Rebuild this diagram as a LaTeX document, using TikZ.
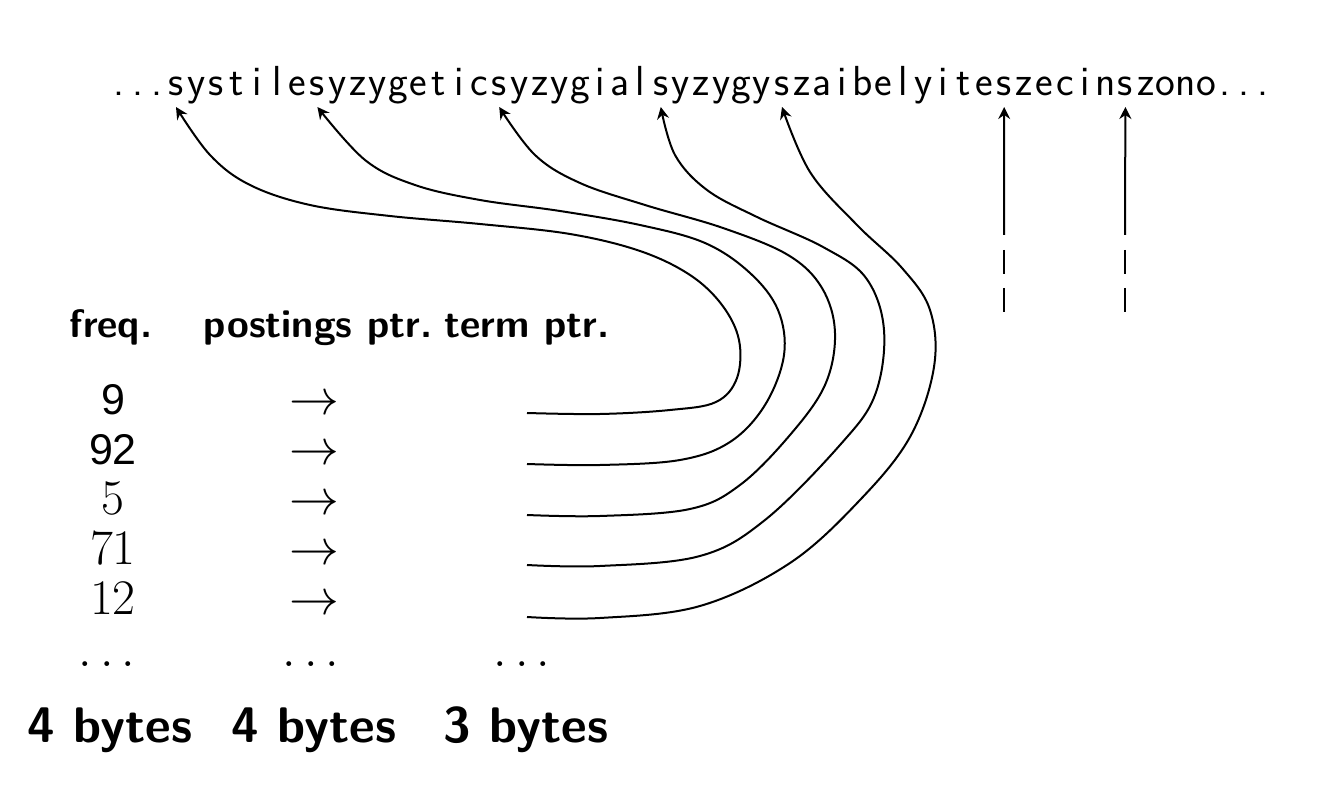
\documentclass[tikz,border=0pt]{standalone}
\usepackage{fontspec}
\newfontfamily\helv{Liberation Sans}
\usetikzlibrary{arrows.meta,calc}
\begin{document}
\begin{tikzpicture}[x=0.5pt,y=-0.5pt,line width=1pt,
  lt/.style={anchor=base,inner sep=0pt,font=\sffamily\fontsize{21}{24}\selectfont},
  hd/.style={anchor=base,inner sep=0pt,font=\sffamily\bfseries\fontsize{19.8}{22}\selectfont},
  num/.style={anchor=base,inner sep=0pt,font=\fontsize{23.5}{26}\selectfont},
  hnum/.style={anchor=base,inner sep=0pt,font=\helv\fontsize{21.5}{24}\selectfont},
  by/.style={anchor=base,inner sep=0pt,font=\sffamily\bfseries\fontsize{25}{28}\selectfont},
  ptr/.style={-{Stealth[length=6pt,width=6pt,inset=2pt]},line width=1pt}]
\useasboundingbox (0,0) rectangle (1330,812);
% top string, one letter per cell
\foreach \c [count=\i from 0] in {s,y,s,t,i,l,e,s,y,z,y,g,e,t,i,c,s,y,z,y,g,i,a,l,s,y,z,y,g,y,s,z,a,i,b,e,l,y,i,t,e,s,z,e,c,i,n,s,z,o,n,o}
  \node[lt] (l\i) at ({176+20.2*\i},96) {\c};
\foreach \k [count=\j] in {-3,-2,-1}
  \node[lt] (ld\j) at ({176+19*\k},96) {.};
\foreach \k [count=\j] in {52,53,54}
  \node[lt] (rd\j) at ({176+20.2*51+19*(\k-51)},96) {.};
\foreach \i in {0,7,16,24,30,41,47}
  \coordinate (a\i) at ($(l\i.base)+(0,11)$);
% headers
\node[hd] (h1) at (111,338) {freq.};
\node[hd] (h2) at (318,338) {postings ptr.};
\node[hd] (h3) at (527,338) {term ptr.};
% rows
\node[hnum] (f1) at (113,415) {9};
\node[hnum] (f2) at (113,465) {92};
\node[num] (f3) at (113,515) {$5$};
\node[num] (f4) at (113,565) {$71$};
\node[num] (f5) at (113,615) {$12$};
\foreach \r in {1,...,5}
  \node[num] (p\r) at (314,{415+50*(\r-1)}) {$\rightarrow$};
\coordinate (t1) at (527,413);
\coordinate (t2) at (527,464);
\coordinate (t3) at (527,515);
\coordinate (t4) at (527,565);
\coordinate (t5) at (527,617);
\node[num] (d1) at (107,667) {$\ldots$};
\node[num] (d2) at (311,667) {$\ldots$};
\node[num] (d3) at (522,667) {$\ldots$};
% bottom
\node[by] (b1) at (110,743) {4 bytes};
\node[by] (b2) at (314,743) {4 bytes};
\node[by] (b3) at (526,743) {3 bytes};
% curved pointers
\draw[ptr] plot[smooth,tension=0.6] coordinates {(t1) (600,414) (670,410) (716,402) (737,378) (739,340) (722,305) (690,275) (640,251) (570,234) (480,224) (390,216) (310,205) (250,185) (210,155) (a0)};
\draw[ptr] plot[smooth,tension=0.6] coordinates {(t2) (600,465) (680,460) (730,442) (765,405) (784,355) (778,310) (750,273) (705,243) (640,225) (560,211) (480,200) (415,185) (365,160) (a7)};
\draw[ptr] plot[smooth,tension=0.6] coordinates {(t3) (600,516) (690,509) (740,485) (790,435) (825,385) (835,333) (822,288) (788,255) (723,228) (645,205) (580,183) (535,155) (a16)};
\draw[ptr] plot[smooth,tension=0.6] coordinates {(t4) (600,566) (700,556) (765,520) (840,445) (875,395) (884,330) (866,278) (823,247) (757,217) (707,190) (675,155) (a24)};
\draw[ptr] plot[smooth,tension=0.6] coordinates {(t5) (600,618) (700,606) (790,563) (860,500) (910,437) (934,367) (930,310) (902,268) (857,225) (810,172) (a30)};
% straight pointers
\coordinate (v41) at (1004,235);
\coordinate (v47) at (1125,235);
\draw[ptr] (v41) -- (a41);
\draw[ptr] (v47) -- (a47);
\draw ($(v41)+(0,15)$) -- ($(v41)+(0,39)$);
\draw ($(v41)+(0,53)$) -- ($(v41)+(0,77)$);
\draw ($(v47)+(0,15)$) -- ($(v47)+(0,39)$);
\draw ($(v47)+(0,53)$) -- ($(v47)+(0,77)$);
\end{tikzpicture}
\end{document}
